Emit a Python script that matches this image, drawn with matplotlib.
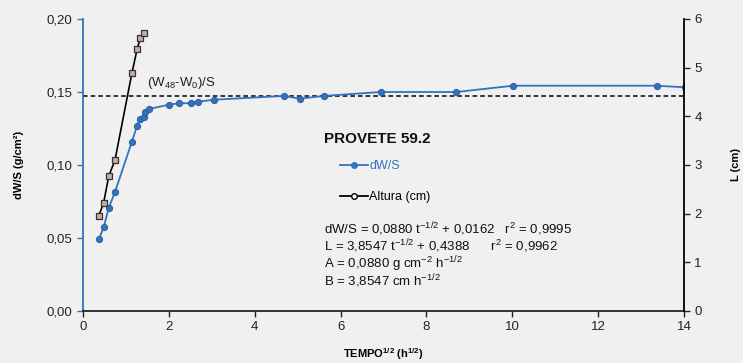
import matplotlib
matplotlib.use("Agg")
import matplotlib.pyplot as plt
from matplotlib.ticker import FuncFormatter, MultipleLocator
from matplotlib.lines import Line2D

plt.rcParams['font.family'] = ['Liberation Sans', 'DejaVu Sans']
plt.rcParams['mathtext.fontset'] = 'custom'
plt.rcParams['mathtext.rm'] = 'Liberation Sans'
plt.rcParams['mathtext.bf'] = 'Liberation Sans:bold'
plt.rcParams['mathtext.default'] = 'rm'

# dW/S series (sqrt time in h^1/2, g/cm2)
t_dw = [0.37, 0.48, 0.60, 0.745, 1.14, 1.26, 1.335, 1.42, 1.44, 1.545,
        2.0, 2.24, 2.52, 2.69, 3.06, 4.68, 5.05, 5.61, 6.94, 8.70, 10.02, 13.36, 14.02]
dw = [0.0491, 0.0573, 0.0705, 0.0815, 0.116, 0.127, 0.1315, 0.1327, 0.136, 0.1384,
      0.1413, 0.1423, 0.1423, 0.1434, 0.1447, 0.1473, 0.1454, 0.1473, 0.1500, 0.1500,
      0.1543, 0.1543, 0.1532]

# Height series (cm)
t_h = [0.37, 0.48, 0.60, 0.745, 1.14, 1.26, 1.335, 1.41]
h = [1.96, 2.22, 2.77, 3.10, 4.89, 5.38, 5.61, 5.71]

dw_ref = 0.1473

BG = '#f0f0f0'
BLUE = '#3372bf'

fig = plt.figure(figsize=(7.43, 3.63), dpi=100, facecolor=BG)
ax = fig.add_axes([0.1117, 0.1433, 0.8089, 0.8044], facecolor=BG)
ax2 = ax.twinx()

ax.plot(t_dw, dw, '-', color=BLUE, lw=1.3, marker='o', ms=4.5,
        mfc=BLUE, mec='#2a5fa0', mew=0.7, zorder=3)
ax.axhline(dw_ref, color='black', ls=(0, (3, 2)), lw=1.1, zorder=2)
ax.text(1.5, 0.1505, r'(W$_{48}$-W$_{0}$)/S', fontsize=9.5, color='#222222',
        va='bottom', ha='left')

ax2.plot(t_h, h, '-', color='black', lw=1.2, marker='s', ms=4.3,
         mfc='#c9aaa4', mec='#333333', mew=0.9, zorder=3)

ax.set_xlim(0, 14)
ax.set_ylim(0, 0.20)
ax2.set_ylim(0, 6)
ax.xaxis.set_major_locator(MultipleLocator(2))
ax.yaxis.set_major_locator(MultipleLocator(0.05))
ax2.yaxis.set_major_locator(MultipleLocator(1))
ax.yaxis.set_major_formatter(FuncFormatter(lambda v, p: f'{v:.2f}'.replace('.', ',')))

for a in (ax, ax2):
    a.spines['top'].set_visible(False)
ax.spines['left'].set_color(BLUE)
ax.spines['left'].set_linewidth(1.3)
ax2.spines['left'].set_visible(False)
ax2.spines['right'].set_color('black')
ax2.spines['right'].set_linewidth(1.3)
ax.spines['right'].set_visible(False)
ax.spines['bottom'].set_color('#222222')
ax.spines['bottom'].set_linewidth(1.3)
ax2.spines['bottom'].set_visible(False)

ax.tick_params(axis='y', colors='#222222', labelsize=9.5, length=4, width=1, direction='out')
ax.tick_params(axis='y', color=BLUE)
ax.tick_params(axis='x', colors='#222222', labelsize=9.5, length=4, width=1, direction='out')
ax2.tick_params(axis='y', colors='#222222', labelsize=9.5, length=4, width=1, direction='out')

ax.set_xlabel(r'TEMPO$^{\mathbf{1/2}}$ (h$^{\mathbf{1/2}}$)', fontsize=8, fontweight='bold', labelpad=9)
ax.set_ylabel('dW/S (g/cm²)', fontsize=8, fontweight='bold', labelpad=16)
ax2.set_ylabel('L (cm)', fontsize=8, fontweight='bold', labelpad=21)

# Title / legend / equations
fig.text(324 / 743, 1 - 139 / 363, 'PROVETE 59.2', fontsize=11, fontweight='bold',
         va='center', ha='left', color='#111111')
leg_handles = [
    Line2D([], [], color=BLUE, lw=1.3, marker='o', ms=4, mfc=BLUE, mec=BLUE),
    Line2D([], [], color='black', lw=1.3, marker='o', ms=4, mfc='white', mec='black'),
]
leg = fig.legend(leg_handles, ['dW/S', 'Altura (cm)'], loc='upper left',
                 bbox_to_anchor=(340 / 743, 1 - 160 / 363), frameon=False,
                 fontsize=9, handlelength=2.2, handletextpad=0.15, labelspacing=1.55,
                 borderpad=0, borderaxespad=0)
leg.get_texts()[0].set_color(BLUE)

eqs = [r'dW/S = 0,0880 t$^{-1/2}$ + 0,0162   r$^{2}$ = 0,9995',
       r'L = 3,8547 t$^{-1/2}$ + 0,4388      r$^{2}$ = 0,9962',
       r'A = 0,0880 g cm$^{-2}$ h$^{-1/2}$',
       r'B = 3,8547 cm h$^{-1/2}$']
for i, s in enumerate(eqs):
    fig.text(324 / 743, 1 - (229 + 17.5 * i) / 363, s, fontsize=9.5,
             va='center', ha='left', color='#111111')

fig.savefig('out.png', dpi=100, facecolor=BG)
